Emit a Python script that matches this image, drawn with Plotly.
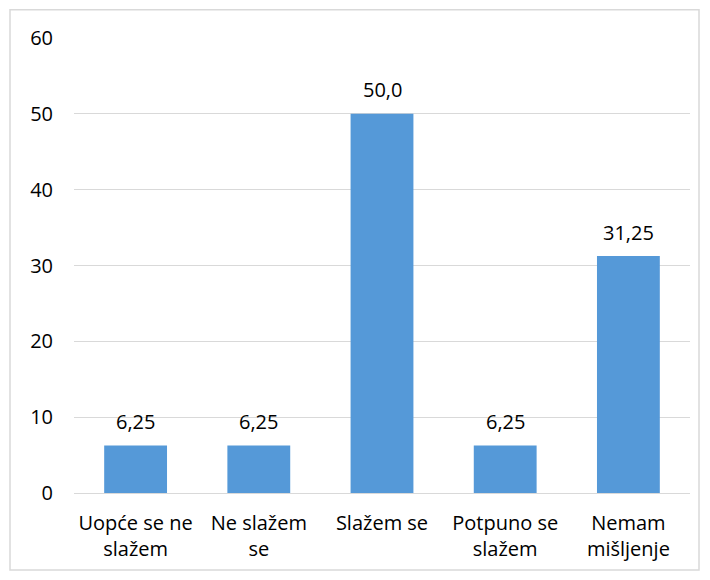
import plotly.graph_objects as go

categories = ["Uopće se ne<br>slažem", "Ne slažem<br>se", "Slažem se", "Potpuno se<br>slažem", "Nemam<br>mišljenje"]
values = [6.25, 6.25, 50.0, 6.25, 31.25]
value_labels = ["6,25", "6,25", "50,0", "6,25", "31,25"]
y_ticks = [0, 10, 20, 30, 40, 50, 60]

FONT = "Open Sans, Noto Sans, sans-serif"

fig = go.Figure(go.Bar(
    x=categories,
    y=values,
    marker=dict(color="#5599D8", line=dict(width=0)),
    hoverinfo="skip",
))

for c, v, t in zip(categories, values, value_labels):
    fig.add_annotation(x=c, y=v, text=t, showarrow=False, yanchor="middle", yshift=24,
                       font=dict(size=20, color="#000000", family=FONT))

fig.update_layout(
    width=702, height=572,
    margin=dict(l=66, r=20, t=30, b=87),
    paper_bgcolor="white", plot_bgcolor="white",
    bargap=0.49,
    showlegend=False,
    font=dict(family=FONT, size=20, color="#000000"),
    xaxis=dict(showgrid=False, showline=False, ticks="", tickfont=dict(size=20),
               ticklabelstandoff=16),
    yaxis=dict(range=[0, 60], tickvals=y_ticks, showgrid=True, gridcolor="#D9D9D9",
               gridwidth=1, zeroline=True, zerolinecolor="#D9D9D9", zerolinewidth=1,
               showline=False, ticks="", ticklabelstandoff=20, tickfont=dict(size=20)),
    shapes=[dict(type="rect", xref="paper", yref="paper",
                 x0=-0.1039, x1=1.0146, y0=-0.169, y1=1.062,
                 line=dict(color="#D9D9D9", width=1.5), fillcolor="rgba(0,0,0,0)", layer="below")],
)

fig.write_html("out.html")
